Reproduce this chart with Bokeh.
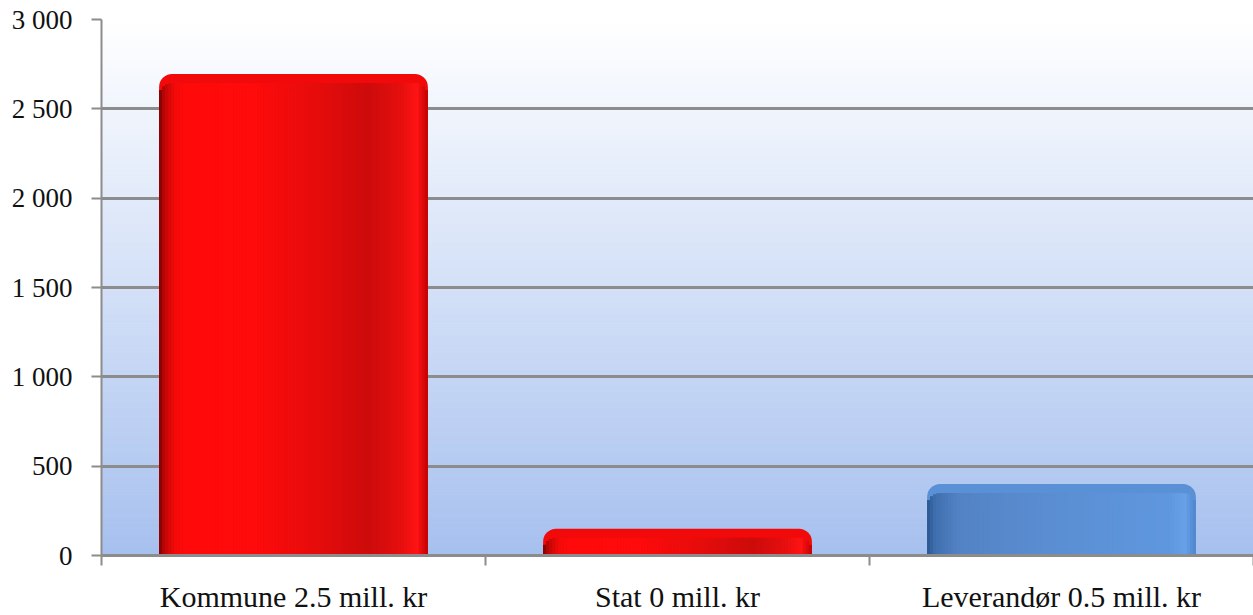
import numpy as np
from bokeh.plotting import figure
from bokeh.models import FixedTicker, Range1d
from bokeh.embed import file_html
from bokeh.resources import INLINE

# ---- data ----
categories = ["Kommune 2.5 mill. kr", "Stat 0 mill. kr", "Leverandør 0.5 mill. kr"]
values = [2695, 150, 400]
bar_kind = ["red", "red", "blue"]
y_ticks = [0, 500, 1000, 1500, 2000, 2500, 3000]
y_tick_labels = ["0", "500", "1 000", "1 500", "2 000", "2 500", "3 000"]

FONT = "Liberation Serif"
GRAY = "#8C8C8C"

n_cat = len(categories)
centers = [i + 0.5 for i in range(n_cat)]
y_max = y_ticks[-1]

p = figure(
    frame_width=1152, frame_height=536,
    x_range=Range1d(0, n_cat), y_range=Range1d(0, y_max),
    output_backend="svg", toolbar_location=None,
    min_border_left=101, min_border_top=19, min_border_right=0, min_border_bottom=10,
)
p.outline_line_color = None
p.background_fill_color = "white"
p.border_fill_color = "white"


def hex2rgb(h):
    h = h.lstrip("#")
    return np.array([int(h[i:i + 2], 16) for i in (0, 2, 4)], dtype=float)


def rgb2hex(c):
    c = np.clip(np.round(c), 0, 255).astype(int)
    return "#%02x%02x%02x" % tuple(c)


def profile(stops, t):
    ts = [s[0] for s in stops]
    cols = np.array([hex2rgb(s[1]) for s in stops])
    out = np.array([np.interp(t, ts, cols[:, k]) for k in range(3)])
    return rgb2hex(out)


# ---- background gradient (white top -> light blue bottom) ----
nb = 150
edges = np.linspace(0, y_max, nb + 1)
bg_cols = [profile([(0.0, "#a6c0ee"), (0.5, "#d3e0f7"), (1.0, "#ffffff")],
                   (edges[i] + edges[i + 1]) / 2 / y_max) for i in range(nb)]
bg = p.quad(left=0, right=n_cat, bottom=edges[:-1], top=edges[1:],
            fill_color=bg_cols, line_color=bg_cols, line_width=1)
bg.level = "image"

# ---- bars ----
bar_w = 0.70
radius_px = 13
r_data = 9 / 536 * y_max

red_stops = [(0.0, "#7a0000"), (0.02, "#c00606"), (0.06, "#f50a0a"), (0.1, "#ff0a0a"), (0.35, "#ff0b0b"),
             (0.6, "#e40c0c"), (0.78, "#cc0b0b"), (0.9, "#e60f0f"), (0.96, "#ff1414"), (1.0, "#c00202")]
blue_stops = [(0.0, "#2a568f"), (0.03, "#3f6fae"), (0.12, "#5383c4"), (0.5, "#5b8fd3"),
              (0.9, "#5f97de"), (0.96, "#68a1e8"), (1.0, "#4f85cc")]
top_col = {"red": "#f20a0a", "blue": "#5a90d6"}

p.vbar(x=centers, top=values, width=bar_w, bottom=0,
       fill_color=[top_col[k] for k in bar_kind], line_color=None,
       border_radius=(radius_px, radius_px, 0, 0))

ns = 90
sw = bar_w / ns
sx, stop_, scol = [], [], []
for c, v, k in zip(centers, values, bar_kind):
    stops = red_stops if k == "red" else blue_stops
    for i in range(ns):
        t = (i + 0.5) / ns
        edge = min(t, 1 - t) * bar_w * 1152 / n_cat  # px from bar edge
        drop = 0.0
        if edge < radius_px:
            drop = (radius_px - np.sqrt(max(radius_px ** 2 - (radius_px - edge) ** 2, 0))) / 536 * y_max
        sx.append(c - bar_w / 2 + (i + 0.5) * sw)
        stop_.append(max(v - r_data - drop, 0))
        scol.append(profile(stops, t))
p.vbar(x=sx, top=stop_, bottom=0, width=sw * 1.05, fill_color=scol, line_color=None)

# ---- axes ----
p.xgrid.grid_line_color = None
p.ygrid.ticker = FixedTicker(ticks=y_ticks)
p.ygrid.grid_line_color = GRAY
p.ygrid.grid_line_width = 3

yax = p.yaxis[0]
yax.ticker = FixedTicker(ticks=y_ticks)
yax.major_label_overrides = {t: l for t, l in zip(y_ticks, y_tick_labels)}
yax.axis_line_color = GRAY
yax.axis_line_width = 2
yax.major_tick_line_color = GRAY
yax.major_tick_line_width = 2
yax.major_tick_out = 10
yax.major_tick_in = 0
yax.minor_tick_line_color = None
yax.major_label_standoff = 19
yax.major_label_text_font = FONT
yax.major_label_text_font_size = "27px"
yax.major_label_text_color = "#111111"

xax = p.xaxis[0]
xax.ticker = FixedTicker(ticks=centers, minor_ticks=list(range(n_cat + 1)))
xax.major_label_overrides = {c: l for c, l in zip(centers, categories)}
xax.axis_line_color = GRAY
xax.axis_line_width = 3
xax.major_tick_line_color = None
xax.major_tick_out = 10
xax.major_tick_in = 0
xax.minor_tick_line_color = GRAY
xax.minor_tick_line_width = 2
xax.minor_tick_out = 10
xax.minor_tick_in = 0
xax.major_label_standoff = 14
xax.major_label_text_font = FONT
xax.major_label_text_font_size = "30px"
xax.major_label_text_color = "#111111"

open("out.html", "w").write(file_html(p, INLINE))
